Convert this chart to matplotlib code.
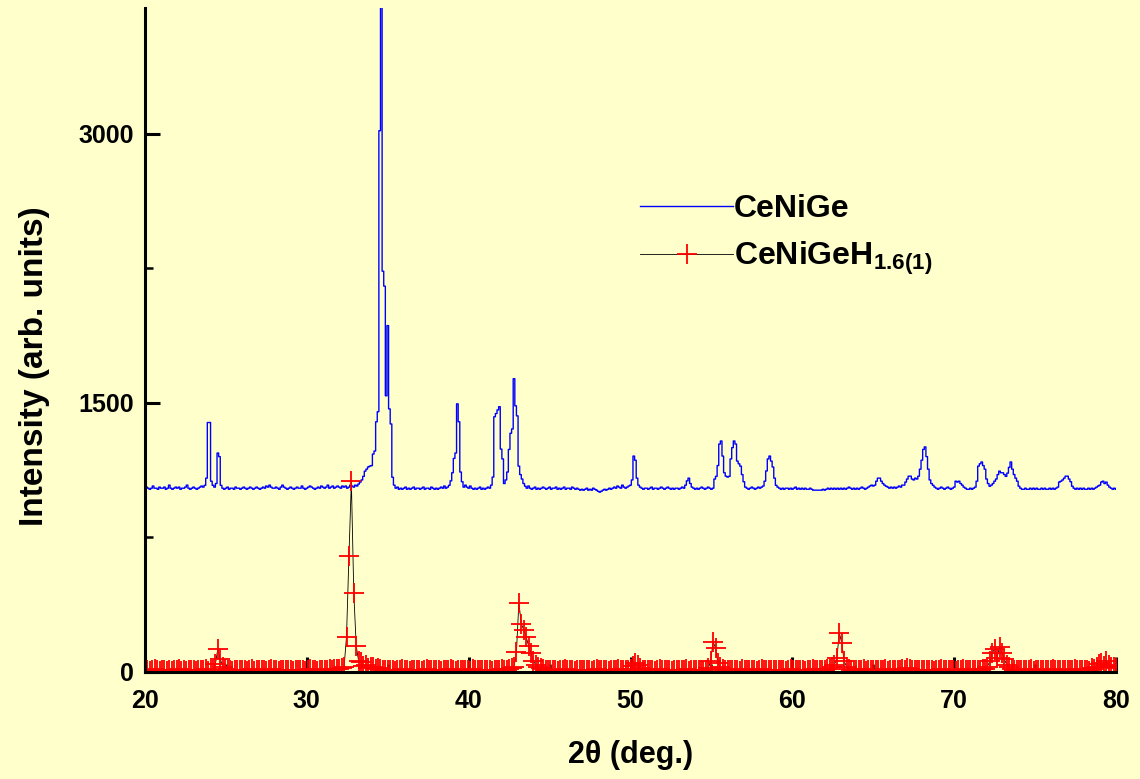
import numpy as np
import matplotlib.pyplot as plt
from matplotlib.ticker import MultipleLocator

# -------------------------
# Fonts
# -------------------------
plt.rcParams['font.family'] = ['Liberation Sans', 'DejaVu Sans']
plt.rcParams['font.weight'] = 'bold'
plt.rcParams['axes.labelweight'] = 'bold'
plt.rcParams['mathtext.fontset'] = 'custom'
plt.rcParams['mathtext.default'] = 'bf'
plt.rcParams['mathtext.rm'] = 'Liberation Sans:bold'
plt.rcParams['mathtext.bf'] = 'Liberation Sans:bold'

# -------------------------
# XRD scans
# -------------------------
# CeNiGe, 0.1 deg steps from 20 deg (one row per degree)
scan_start = 20.0
step_cenige = 0.1
cenige = [
    1024, 1030, 1024, 1018, 1024, 1036, 1024, 1024, 1018, 1030,
    1024, 1024, 1030, 1018, 1024, 1041, 1024, 1018, 1024, 1030,
    1024, 1030, 1018, 1024, 1024, 1030, 1041, 1024, 1018, 1024,
    1030, 1024, 1018, 1024, 1030, 1036, 1030, 1040, 1080, 1390,
    1390, 1063, 1040, 1030, 1050, 1220, 1200, 1040, 1024, 1018,
    1024, 1030, 1018, 1024, 1024, 1018, 1030, 1024, 1024, 1018,
    1024, 1030, 1024, 1018, 1024, 1030, 1024, 1018, 1024, 1030,
    1024, 1018, 1024, 1030, 1024, 1036, 1030, 1041, 1030, 1024,
    1024, 1030, 1024, 1018, 1030, 1041, 1030, 1024, 1018, 1024,
    1030, 1024, 1018, 1024, 1030, 1024, 1024, 1036, 1024, 1018,
    1024, 1030, 1036, 1030, 1024, 1018, 1024, 1030, 1024, 1036,
    1030, 1024, 1030, 1041, 1024, 1030, 1036, 1024, 1030, 1036,
    1030, 1024, 1036, 1030, 1036, 1024, 1030, 1041, 1036, 1030,
    1041, 1036, 1047, 1058, 1070, 1090, 1119, 1130, 1142, 1147,
    1150, 1214, 1231, 1394, 1450, 3016, 3900, 2233, 2150, 1539,
    1930, 1466, 1382, 1085, 1041, 1024, 1030, 1018, 1024, 1018,
    1024, 1030, 1018, 1024, 1018, 1024, 1030, 1018, 1024, 1024,
    1018, 1024, 1030, 1018, 1024, 1024, 1018, 1030, 1024, 1018,
    1024, 1018, 1024, 1030, 1024, 1036, 1024, 1030, 1040, 1065,
    1110, 1190, 1220, 1494, 1394, 1114, 1060, 1030, 1041, 1030,
    1024, 1036, 1024, 1018, 1024, 1018, 1024, 1030, 1018, 1024,
    1018, 1024, 1030, 1024, 1041, 1086, 1422, 1440, 1460, 1478,
    1242, 1187, 1050, 1070, 1114, 1240, 1330, 1354, 1634, 1483,
    1427, 1147, 1100, 1075, 1050, 1035, 1024, 1036, 1024, 1018,
    1024, 1030, 1018, 1024, 1018, 1024, 1030, 1024, 1018, 1024,
    1030, 1018, 1024, 1024, 1030, 1018, 1024, 1018, 1024, 1030,
    1018, 1024, 1024, 1018, 1030, 1024, 1018, 1024, 1018, 1013,
    1018, 1013, 1018, 1024, 1013, 1018, 1013, 1024, 1018, 1013,
    1007, 1002, 1007, 1013, 1018, 1013, 1018, 1024, 1018, 1024,
    1030, 1024, 1036, 1030, 1024, 1041, 1030, 1024, 1030, 1036,
    1041, 1070, 1203, 1180, 1080, 1041, 1030, 1024, 1018, 1024,
    1024, 1018, 1024, 1030, 1018, 1024, 1024, 1018, 1024, 1030,
    1024, 1018, 1024, 1030, 1024, 1018, 1024, 1018, 1024, 1024,
    1018, 1024, 1030, 1024, 1041, 1065, 1080, 1050, 1030, 1024,
    1018, 1024, 1018, 1024, 1030, 1024, 1018, 1024, 1030, 1024,
    1018, 1024, 1075, 1090, 1150, 1270, 1287, 1203, 1110, 1091,
    1086, 1090, 1187, 1250, 1287, 1270, 1175, 1160, 1147, 1100,
    1060, 1030, 1024, 1018, 1024, 1030, 1024, 1018, 1024, 1030,
    1024, 1030, 1036, 1063, 1120, 1187, 1203, 1175, 1142, 1080,
    1040, 1030, 1024, 1018, 1024, 1018, 1024, 1024, 1018, 1024,
    1018, 1024, 1030, 1018, 1024, 1018, 1024, 1018, 1024, 1018,
    1018, 1024, 1018, 1013, 1013, 1013, 1013, 1013, 1013, 1018,
    1013, 1018, 1024, 1018, 1024, 1018, 1024, 1018, 1024, 1018,
    1024, 1018, 1024, 1018, 1024, 1030, 1024, 1018, 1024, 1018,
    1024, 1018, 1024, 1030, 1024, 1018, 1024, 1030, 1036, 1041,
    1036, 1041, 1063, 1080, 1080, 1063, 1050, 1041, 1035, 1030,
    1024, 1030, 1024, 1030, 1024, 1030, 1036, 1030, 1041, 1041,
    1058, 1075, 1091, 1091, 1075, 1070, 1080, 1075, 1091, 1130,
    1180, 1240, 1254, 1200, 1130, 1070, 1050, 1040, 1030, 1024,
    1018, 1024, 1030, 1024, 1018, 1024, 1030, 1024, 1018, 1024,
    1030, 1063, 1058, 1063, 1050, 1041, 1030, 1024, 1018, 1018,
    1024, 1018, 1024, 1030, 1063, 1147, 1160, 1170, 1150, 1130,
    1075, 1050, 1035, 1041, 1050, 1063, 1075, 1100, 1119, 1110,
    1110, 1100, 1090, 1108, 1140, 1170, 1130, 1100, 1080, 1063,
    1035, 1024, 1018, 1018, 1024, 1018, 1018, 1024, 1018, 1024,
    1018, 1024, 1018, 1018, 1024, 1018, 1024, 1018, 1018, 1024,
    1018, 1024, 1018, 1024, 1030, 1058, 1063, 1070, 1080, 1091,
    1091, 1075, 1060, 1035, 1024, 1018, 1024, 1018, 1024, 1018,
    1024, 1018, 1018, 1024, 1018, 1024, 1018, 1024, 1030, 1036,
    1041, 1058, 1063, 1050, 1058, 1041, 1030, 1024, 1018, 1024,
    1018,
]

# CeNiGeH1.6(1), 0.15 deg steps from 20 deg (one row per 3 degrees)
step_hydride = 0.15
cenigeh = [
    8, 12, 6, 10, 14, 9, 7, 11, 13, 8, 10, 6, 12, 9, 15, 8, 11, 7, 10, 13,
    10, 8, 12, 9, 11, 14, 8, 10, 13, 45, 129, 73, 30, 15, 10, 12, 8, 11, 9, 13,
    9, 12, 8, 10, 14, 7, 11, 9, 13, 10, 8, 12, 15, 9, 11, 8, 10, 13, 9, 12,
    10, 8, 13, 9, 11, 12, 8, 10, 14, 9, 12, 8, 11, 10, 13, 9, 15, 11, 18, 14,
    15, 20, 28, 196, 644, 1063, 442, 146, 60, 56, 34, 40, 22, 28, 25, 18, 22, 14, 12, 10,
    11, 9, 13, 8, 12, 10, 14, 9, 11, 8, 13, 10, 12, 9, 8, 11, 14, 10, 9, 12,
    10, 13, 8, 11, 9, 12, 14, 10, 8, 11, 13, 9, 12, 10, 8, 14, 11, 9, 13, 10,
    9, 12, 10, 8, 13, 11, 9, 14, 10, 12, 15, 20, 30, 110, 386, 269, 235, 196, 146, 106,
    60, 40, 30, 22, 15, 12, 10, 13, 9, 11, 8, 12, 10, 14, 9, 11, 13, 8, 10, 12,
    11, 9, 13, 10, 8, 12, 14, 9, 11, 10, 13, 8, 12, 9, 11, 14, 10, 12, 9, 13,
    18, 35, 50, 40, 22, 12, 10, 13, 9, 11, 8, 12, 14, 10, 9, 11, 13, 8, 12, 10,
    9, 12, 10, 14, 8, 11, 13, 9, 12, 10, 8, 13, 20, 60, 168, 134, 50, 25, 14, 11,
    10, 13, 9, 11, 12, 8, 14, 10, 9, 12, 11, 13, 8, 10, 14, 9, 12, 11, 10, 13,
    9, 11, 13, 10, 8, 12, 14, 9, 11, 10, 13, 12, 8, 11, 9, 14, 10, 12, 13, 9,
    11, 14, 18, 25, 40, 78, 218, 162, 60, 30, 18, 12, 10, 13, 9, 11, 14, 8, 12, 10,
    13, 9, 11, 10, 12, 14, 8, 11, 13, 9, 10, 12, 15, 11, 20, 14, 10, 12, 9, 13,
    10, 12, 9, 13, 11, 8, 12, 10, 14, 9, 11, 13, 10, 12, 8, 11, 9, 14, 10, 12,
    11, 9, 13, 10, 12, 14, 18, 30, 60, 106, 129, 78, 140, 106, 70, 40, 25, 18, 12, 10,
    13, 10, 12, 9, 11, 14, 8, 12, 10, 13, 9, 11, 12, 10, 14, 9, 11, 13, 10, 12,
    9, 12, 10, 14, 11, 9, 13, 10, 12, 8, 20, 14, 30, 45, 50, 35, 60, 40, 30, 25,
    20,
]

labels = ['CeNiGe', r'CeNiGeH$_{1.6(1)}$']

tt_cenige = scan_start + step_cenige * np.arange(len(cenige))
tt_hydride = scan_start + step_hydride * np.arange(len(cenigeh))

# -------------------------
# Plot
# -------------------------
bg = '#FFFFCC'
fig = plt.figure(figsize=(11.4, 7.79), dpi=100, facecolor=bg)
ax = fig.add_axes([0.1272, 0.1374, 0.8518, 0.8524], facecolor=bg)

ax.plot(tt_cenige, cenige, color='blue', lw=1.0, drawstyle='steps-mid', label=labels[0])
ax.plot(tt_hydride, cenigeh, color='black', lw=0.6, marker='+', ms=14,
        mec='red', mew=1.3, label=labels[1])

ax.set_xlim(20, 80)
ax.set_ylim(0, 3700)
ax.xaxis.set_major_locator(MultipleLocator(10))
ax.xaxis.set_minor_locator(MultipleLocator(5))
ax.yaxis.set_major_locator(MultipleLocator(1500))
ax.yaxis.set_minor_locator(MultipleLocator(750))

for side in ['top', 'right']:
    ax.spines[side].set_visible(False)
for side in ['left', 'bottom']:
    ax.spines[side].set_linewidth(2.2)

ax.tick_params(which='major', direction='in', length=11, width=2.2, labelsize=18)
ax.tick_params(which='minor', direction='in', length=5.5, width=1.8)
ax.tick_params(axis='x', which='major', pad=12)
ax.tick_params(axis='y', which='major', pad=8)

ax.set_xlabel('2θ (deg.)', fontsize=22, fontweight='bold')
ax.xaxis.set_label_coords(0.5, -0.102)
ax.set_ylabel('Intensity (arb. units)', fontsize=24, fontweight='bold')
ax.yaxis.set_label_coords(-0.098, 0.46)

ax.legend(loc='upper left', bbox_to_anchor=(0.51, 0.72), frameon=False,
          fontsize=23, handlelength=2.9, handletextpad=0.03, labelspacing=0.5,
          borderpad=0, borderaxespad=0, numpoints=1)

fig.savefig('out.png', dpi=100, facecolor=bg)
plt.close()
